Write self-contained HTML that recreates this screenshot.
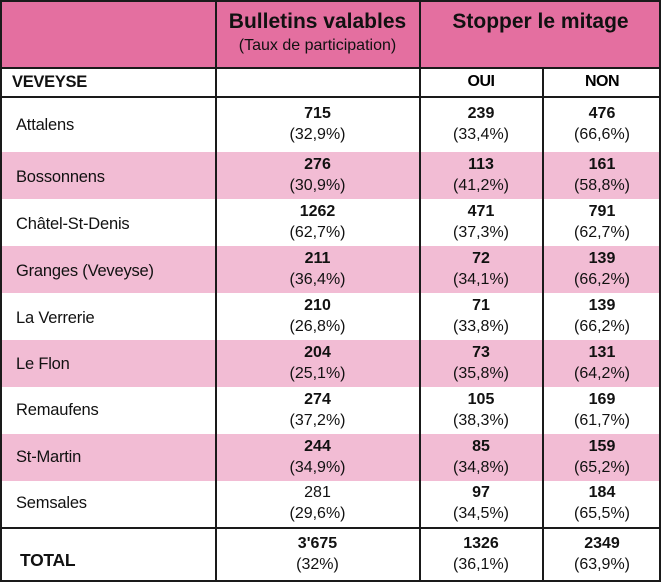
<!DOCTYPE html>
<html><head><meta charset="utf-8"><style>
body{margin:0;width:661px;height:582px;background:#fff;overflow:hidden;font-family:"Liberation Sans",sans-serif;}
.a{position:absolute;}
.v{position:absolute;background:#1a1a1a;width:1.5px;}
.h{position:absolute;background:#1a1a1a;height:1.5px;left:0;width:661px;}
.n{position:absolute;text-align:center;font-size:16px;line-height:21px;color:#111;}
.n b{display:block;}
.lab{position:absolute;left:16px;font-size:16.5px;color:#111;letter-spacing:-0.2px;}
</style></head><body>
<div class="a" style="left:0;top:0;width:661px;height:68px;background:#e46fa0"></div>
<div class="a" style="left:0;top:152px;width:661px;height:47px;background:#f2bcd4"></div>
<div class="a" style="left:0;top:246px;width:661px;height:47px;background:#f2bcd4"></div>
<div class="a" style="left:0;top:340px;width:661px;height:47px;background:#f2bcd4"></div>
<div class="a" style="left:0;top:434px;width:661px;height:47px;background:#f2bcd4"></div>
<div class="a" style="left:0;top:0;width:657px;height:578px;border:2px solid #1a1a1a"></div>
<div class="h" style="top:67px"></div>
<div class="h" style="top:96px"></div>
<div class="h" style="top:527px"></div>
<div class="v" style="left:215px;top:0;height:582px"></div>
<div class="v" style="left:419px;top:0;height:582px"></div>
<div class="v" style="left:542px;top:67px;height:515px"></div>
<div class="a" style="left:216px;width:203px;top:10px;text-align:center;font-size:21px;font-weight:bold;color:#111;">Bulletins valables</div>
<div class="a" style="left:216px;width:203px;top:37px;text-align:center;font-size:16px;color:#111;">(Taux de participation)</div>
<div class="a" style="left:420px;width:241px;top:10px;text-align:center;font-size:21px;font-weight:bold;color:#111;">Stopper le mitage</div>
<div class="a" style="left:12px;top:73px;font-size:16.5px;font-weight:bold;color:#111;letter-spacing:-0.3px">VEVEYSE</div>
<div class="a" style="left:420px;width:122px;top:73px;text-align:center;font-size:16px;font-weight:bold;letter-spacing:-0.5px">OUI</div>
<div class="a" style="left:543px;width:118px;top:73px;text-align:center;font-size:16px;font-weight:bold;letter-spacing:-0.5px">NON</div>
<div class="lab" style="top:116px">Attalens</div>
<div class="n" style="left:216px;width:203px;top:103px"><b>715</b>(32,9%)</div>
<div class="n" style="left:420px;width:122px;top:103px"><b>239</b>(33,4%)</div>
<div class="n" style="left:543px;width:118px;top:103px"><b>476</b>(66,6%)</div>

<div class="lab" style="top:168px">Bossonnens</div>
<div class="n" style="left:216px;width:203px;top:154px"><b>276</b>(30,9%)</div>
<div class="n" style="left:420px;width:122px;top:154px"><b>113</b>(41,2%)</div>
<div class="n" style="left:543px;width:118px;top:154px"><b>161</b>(58,8%)</div>

<div class="lab" style="top:215px">Châtel-St-Denis</div>
<div class="n" style="left:216px;width:203px;top:201px"><b>1262</b>(62,7%)</div>
<div class="n" style="left:420px;width:122px;top:201px"><b>471</b>(37,3%)</div>
<div class="n" style="left:543px;width:118px;top:201px"><b>791</b>(62,7%)</div>

<div class="lab" style="top:262px">Granges (Veveyse)</div>
<div class="n" style="left:216px;width:203px;top:248px"><b>211</b>(36,4%)</div>
<div class="n" style="left:420px;width:122px;top:248px"><b>72</b>(34,1%)</div>
<div class="n" style="left:543px;width:118px;top:248px"><b>139</b>(66,2%)</div>

<div class="lab" style="top:309px">La Verrerie</div>
<div class="n" style="left:216px;width:203px;top:295px"><b>210</b>(26,8%)</div>
<div class="n" style="left:420px;width:122px;top:295px"><b>71</b>(33,8%)</div>
<div class="n" style="left:543px;width:118px;top:295px"><b>139</b>(66,2%)</div>

<div class="lab" style="top:355px">Le Flon</div>
<div class="n" style="left:216px;width:203px;top:342px"><b>204</b>(25,1%)</div>
<div class="n" style="left:420px;width:122px;top:342px"><b>73</b>(35,8%)</div>
<div class="n" style="left:543px;width:118px;top:342px"><b>131</b>(64,2%)</div>

<div class="lab" style="top:401px">Remaufens</div>
<div class="n" style="left:216px;width:203px;top:389px"><b>274</b>(37,2%)</div>
<div class="n" style="left:420px;width:122px;top:389px"><b>105</b>(38,3%)</div>
<div class="n" style="left:543px;width:118px;top:389px"><b>169</b>(61,7%)</div>

<div class="lab" style="top:448px">St-Martin</div>
<div class="n" style="left:216px;width:203px;top:436px"><b>244</b>(34,9%)</div>
<div class="n" style="left:420px;width:122px;top:436px"><b>85</b>(34,8%)</div>
<div class="n" style="left:543px;width:118px;top:436px"><b>159</b>(65,2%)</div>

<div class="lab" style="top:494px">Semsales</div>
<div class="n" style="left:216px;width:203px;top:482px">281<br>(29,6%)</div>
<div class="n" style="left:420px;width:122px;top:482px"><b>97</b>(34,5%)</div>
<div class="n" style="left:543px;width:118px;top:482px"><b>184</b>(65,5%)</div>

<div class="a" style="left:20px;top:550px;font-size:17.5px;font-weight:bold;letter-spacing:-0.3px;color:#111">TOTAL</div>
<div class="n" style="left:216px;width:203px;top:533px"><b>3'675</b>(32%)</div>
<div class="n" style="left:420px;width:122px;top:533px"><b>1326</b>(36,1%)</div>
<div class="n" style="left:543px;width:118px;top:533px"><b>2349</b>(63,9%)</div>
</body></html>
